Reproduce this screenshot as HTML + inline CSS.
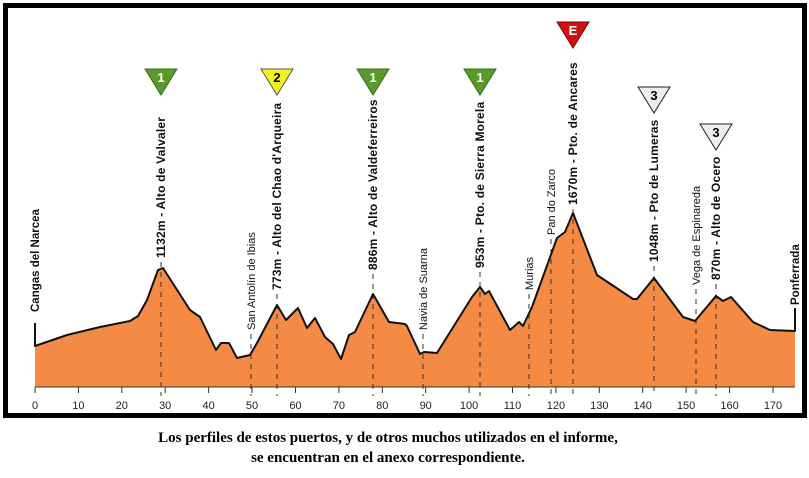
<!DOCTYPE html>
<html><head><meta charset="utf-8"><style>
body{margin:0;background:#fff;width:809px;height:473px;overflow:hidden}
</style></head><body>
<svg width="809" height="473" xmlns="http://www.w3.org/2000/svg" font-family="Liberation Sans, Arial, sans-serif">
<rect x="5.5" y="5.5" width="799" height="410" fill="#fff" stroke="#000" stroke-width="5"/>
<polygon fill="#f58a45" stroke="none" points="35,387 35,346 67,335 100,327 130,321 138,316 147,300 158,270 163,268 190,310 200,317 216,350 221,343 229,343 237,358 250,355 257,343 277,305 286,320 298,308 307,328 315,318 325,337 333,344 341,359 349,335 355,332 373,294 389,322 405,324 407,326 420,354 424,352 437,353 472,297 480,287 485,294 489,291 510,330 519,322 523,326 532,307 557,238 565,232 573,213 597,275 633,299 637,299 654,278 683,317 695,321 716,296 723,301 731,297 753,322 770,330 795,331 795,387"/>
<g stroke="#333" stroke-width="1" stroke-dasharray="5,5">
<line x1="161" y1="262" x2="161" y2="396"/>
<line x1="251" y1="334" x2="251" y2="396"/>
<line x1="277" y1="294" x2="277" y2="396"/>
<line x1="373" y1="274" x2="373" y2="396"/>
<line x1="423" y1="334" x2="423" y2="396"/>
<line x1="480" y1="272" x2="480" y2="396"/>
<line x1="529" y1="294" x2="529" y2="396"/>
<line x1="551" y1="239" x2="551" y2="396"/>
<line x1="573" y1="209" x2="573" y2="396"/>
<line x1="654" y1="266" x2="654" y2="396"/>
<line x1="696" y1="289" x2="696" y2="396"/>
<line x1="716" y1="284" x2="716" y2="396"/>
</g>
<polyline fill="none" stroke="#111" stroke-width="2" stroke-linejoin="round" points="35,323 35,346 67,335 100,327 130,321 138,316 147,300 158,270 163,268 190,310 200,317 216,350 221,343 229,343 237,358 250,355 257,343 277,305 286,320 298,308 307,328 315,318 325,337 333,344 341,359 349,335 355,332 373,294 389,322 405,324 407,326 420,354 424,352 437,353 472,297 480,287 485,294 489,291 510,330 519,322 523,326 532,307 557,238 565,232 573,213 597,275 633,299 637,299 654,278 683,317 695,321 716,296 723,301 731,297 753,322 770,330 795,331 795,308"/>
<line x1="35" y1="387" x2="795" y2="387" stroke="#333" stroke-width="1"/>
<g stroke="#333" stroke-width="1">
<line x1="35" y1="387" x2="35" y2="393"/><line x1="78.4" y1="387" x2="78.4" y2="393"/><line x1="121.8" y1="387" x2="121.8" y2="393"/><line x1="165.2" y1="387" x2="165.2" y2="393"/><line x1="208.6" y1="387" x2="208.6" y2="393"/><line x1="252" y1="387" x2="252" y2="393"/><line x1="295.5" y1="387" x2="295.5" y2="393"/><line x1="338.9" y1="387" x2="338.9" y2="393"/><line x1="382.3" y1="387" x2="382.3" y2="393"/><line x1="425.7" y1="387" x2="425.7" y2="393"/><line x1="469.1" y1="387" x2="469.1" y2="393"/><line x1="512.5" y1="387" x2="512.5" y2="393"/><line x1="555.9" y1="387" x2="555.9" y2="393"/><line x1="599.3" y1="387" x2="599.3" y2="393"/><line x1="642.7" y1="387" x2="642.7" y2="393"/><line x1="686.1" y1="387" x2="686.1" y2="393"/><line x1="729.6" y1="387" x2="729.6" y2="393"/><line x1="773" y1="387" x2="773" y2="393"/>
</g>
<g font-size="11" fill="#222" text-anchor="middle">
<text x="35" y="409">0</text><text x="78.4" y="409">10</text><text x="121.8" y="409">20</text><text x="165.2" y="409">30</text><text x="208.6" y="409">40</text><text x="252" y="409">50</text><text x="295.5" y="409">60</text><text x="338.9" y="409">70</text><text x="382.3" y="409">80</text><text x="425.7" y="409">90</text><text x="469.1" y="409">100</text><text x="512.5" y="409">110</text><text x="555.9" y="409">120</text><text x="599.3" y="409">130</text><text x="642.7" y="409">140</text><text x="686.1" y="409">150</text><text x="729.6" y="409">160</text><text x="773" y="409">170</text>
</g>
<g font-size="11" fill="#111" text-anchor="start">
<text transform="translate(39,312) rotate(-90)" font-weight="bold" font-size="11.5">Cangas del Narcea</text>
<text transform="translate(165,258) rotate(-90)" font-weight="bold" font-size="12" letter-spacing="0.2">1132m - Alto de Valvaler</text>
<text transform="translate(255,330) rotate(-90)">San Antolín de Ibias</text>
<text transform="translate(281,290) rotate(-90)" font-weight="bold" font-size="12" letter-spacing="0.2">773m - Alto del Chao d'Arqueira</text>
<text transform="translate(377,270) rotate(-90)" font-weight="bold" font-size="12" letter-spacing="0.2">886m - Alto de Valdeferreiros</text>
<text transform="translate(427,330) rotate(-90)">Navia de Suarna</text>
<text transform="translate(484,268) rotate(-90)" font-weight="bold" font-size="12" letter-spacing="0.2">953m - Pto. de Sierra Morela</text>
<text transform="translate(533,290) rotate(-90)">Murias</text>
<text transform="translate(555,235) rotate(-90)">Pan do Zarco</text>
<text transform="translate(577,205) rotate(-90)" font-weight="bold" font-size="12" letter-spacing="0.2">1670m - Pto. de Ancares</text>
<text transform="translate(658,262) rotate(-90)" font-weight="bold" font-size="12" letter-spacing="0.2">1048m - Pto de Lumeras</text>
<text transform="translate(700,285) rotate(-90)">Vega de Espinareda</text>
<text transform="translate(720,280) rotate(-90)" font-weight="bold" font-size="12" letter-spacing="0.2">870m - Alto de Ocero</text>
<text transform="translate(799,305) rotate(-90)" font-weight="bold" font-size="11.5">Ponferrada</text>
</g>
<g font-size="13" font-weight="bold" text-anchor="middle">
<polygon points="145,69 177,69 161,95" fill="#5a9a2a" stroke="#3a6a1a"/><text x="161" y="82" fill="#fff">1</text>
<polygon points="261,69 293,69 277,95" fill="#f5f020" stroke="#555"/><text x="277" y="82" fill="#000">2</text>
<polygon points="357,69 389,69 373,95" fill="#5a9a2a" stroke="#3a6a1a"/><text x="373" y="82" fill="#fff">1</text>
<polygon points="464,69 496,69 480,95" fill="#5a9a2a" stroke="#3a6a1a"/><text x="480" y="82" fill="#fff">1</text>
<polygon points="557,22 589,22 573,48" fill="#cc1010" stroke="#800"/><text x="573" y="35" fill="#fff">E</text>
<polygon points="638,87 670,87 654,113" fill="#eee" stroke="#222"/><text x="654" y="100" fill="#000">3</text>
<polygon points="700,124 732,124 716,150" fill="#eee" stroke="#222"/><text x="716" y="137" fill="#000">3</text>
</g>
<g font-family="Liberation Serif, serif" font-size="15" font-weight="bold" text-anchor="middle" fill="#000">
<text x="388" y="442">Los perfiles de estos puertos, y de otros muchos utilizados en el informe,</text>
<text x="388" y="462">se encuentran en el anexo correspondiente.</text>
</g>
</svg>
</body></html>
